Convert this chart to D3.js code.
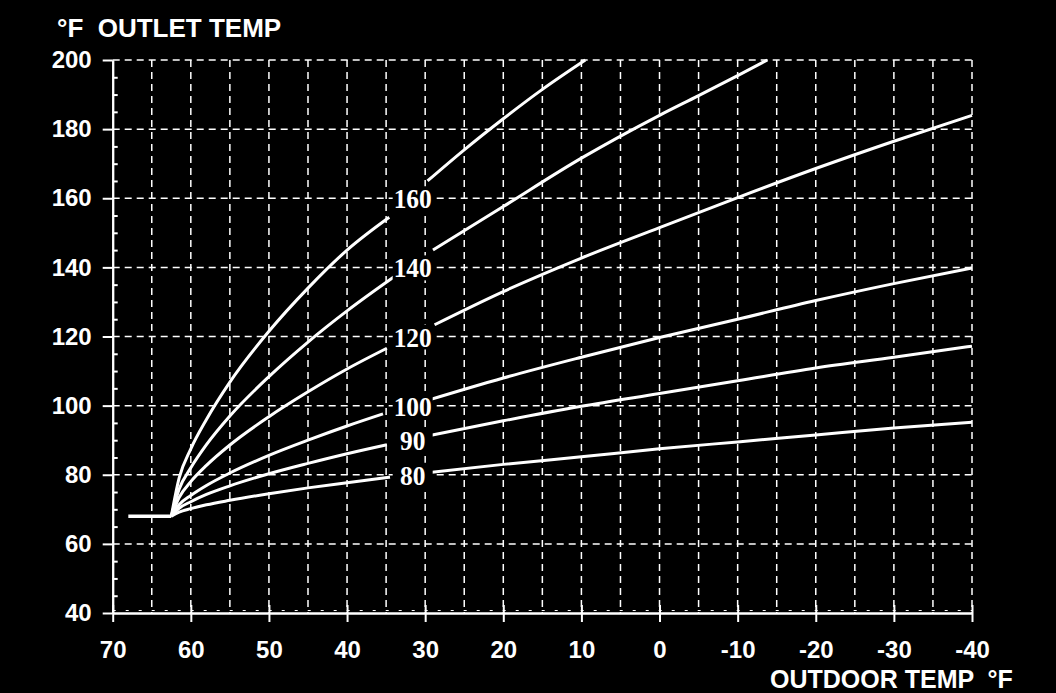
<!DOCTYPE html>
<html>
<head>
<meta charset="utf-8">
<script src="https://cdn.jsdelivr.net/npm/d3@7"></script>
<style>
  html, body { margin: 0; padding: 0; background: #000; }
  svg { display: block; }
</style>
</head>
<body>
<div id="chart"></div>
<script>
// outdoor temp (°F) ticks and outlet temp (°F) ticks
const xTicks = [70, 60, 50, 40, 30, 20, 10, 0, -10, -20, -30, -40]
const yTicks = [40, 60, 80, 100, 120, 140, 160, 180, 200]

// flat part below the warm weather shutdown
const baseLine = [[68, 68], [62.5, 68]]

// curve names (outlet temp at 30°F outdoor)
const curveNames = [80, 90, 100, 120, 140, 160]

// [outdoor, outlet] points, null = gap for the label
const curve80 = [[62.5, 68], [61.5, 69.2], [60, 70.2], [58, 71.3], [55, 72.6], [50, 74.5], [45, 76.2], [40, 77.7], [34.5, 79.3], null,
  [30, 80.5], [20, 83], [10, 85.2], [0, 87.5], [-10, 89.5], [-20, 91.5], [-30, 93.5], [-40, 95.2]]
const curve90 = [[62.5, 68], [61.5, 70.3], [60, 72.2], [58, 74.3], [55, 76.8], [50, 80.3], [45, 83.3], [40, 86.1], [34.9, 88.7], null,
  [30.2, 91], [20, 95.6], [10, 99.8], [0, 103.5], [-10, 107.2], [-20, 110.9], [-30, 114], [-40, 117.2]]
const curve100 = [[62.5, 68], [61.5, 71.3], [60, 74], [58, 76.9], [55, 80.5], [50, 85.6], [45, 90], [40, 94.1], [35.4, 97.6], null,
  [29.6, 101.6], [20, 108], [10, 114], [0, 119.7], [-10, 125], [-20, 130.4], [-30, 135.3], [-40, 139.8]]
const curve120 = [[62.5, 68], [61.5, 73.4], [60, 78], [58, 82.7], [55, 88.6], [50, 96.8], [45, 104], [40, 110.6], [34.9, 116.6], null,
  [28.8, 123.4], [20, 133], [10, 142.7], [0, 151.5], [-10, 160.2], [-20, 168.6], [-30, 176.5], [-40, 184]]
const curve140 = [[62.5, 68], [61.5, 75.8], [60, 82], [58, 88.7], [55, 97], [50, 108.4], [45, 118.4], [40, 127.4], [33.2, 138.5], null,
  [29, 145], [20, 157.6], [10, 171.6], [0, 184], [-5, 189.7], [-10, 195.5], [-13.8, 200]]
const curve160 = [[62.5, 68], [61.5, 79], [60, 87.5], [58, 96], [55, 106.8], [50, 121.5], [45, 134], [40, 145], [34.6, 154.5], null,
  [29.7, 165], [25, 174], [20, 183], [15, 191.5], [9.5, 200]]

const curves = [curve80, curve90, curve100, curve120, curve140, curve160]

const width = 1056, height = 693
const plotLeft = 112.7, plotRight = 972, plotTop = 60, plotBottom = 613

const svg = d3.select('#chart').append('svg')
  .attr('width', width)
  .attr('height', height)
  .style('background', '#000')

const x = d3.scaleLinear().domain([70, -40]).range([plotLeft, plotRight])
const y = d3.scaleLinear().domain([40, 200]).range([plotBottom, plotTop])

// grid
const grid = svg.append('g')
  .attr('stroke', '#fff')
  .attr('stroke-width', 1.5)
  .attr('stroke-dasharray', '7,5')
  .attr('fill', 'none')

grid.selectAll('line.v')
  .data(d3.range(65, -41, -5))
  .join('line')
  .attr('class', 'v')
  .attr('x1', d => x(d)).attr('x2', d => x(d))
  .attr('y1', y(200)).attr('y2', y(40))

grid.selectAll('line.h')
  .data(yTicks.slice(1))
  .join('line')
  .attr('class', 'h')
  .attr('x1', x(70)).attr('x2', x(-40))
  .attr('y1', d => y(d)).attr('y2', d => y(d))

// small bumps just above the x axis
grid.append('line')
  .attr('x1', x(70)).attr('x2', x(-40))
  .attr('y1', y(40) - 2.5).attr('y2', y(40) - 2.5)
  .attr('stroke-width', 1.2)
  .attr('stroke-dasharray', '3,10')

// axes
const yAxis = d3.axisLeft(y)
  .tickValues(yTicks)
  .tickSize(10)
  .tickSizeOuter(0)
  .tickPadding(11)
const yMinor = d3.axisLeft(y)
  .tickValues(d3.range(40, 201, 5).filter(d => d % 20 != 0))
  .tickSize(-5)
  .tickSizeOuter(0)
  .tickFormat('')
const xAxis = d3.axisBottom(x)
  .tickValues(xTicks)
  .tickSize(9)
  .tickSizeOuter(0)
  .tickPadding(19)
  .tickFormat(d => String(d))
const xUp = d3.axisBottom(x)
  .tickValues(xTicks)
  .tickSize(-8)
  .tickSizeOuter(0)
  .tickFormat('')

function styleAxis(g) {
  g.selectAll('path, line').attr('stroke', '#fff').attr('stroke-width', 2)
  g.selectAll('text')
    .attr('fill', '#fff')
    .style('font-family', '"Liberation Sans", Arial, sans-serif')
    .style('font-weight', 'bold')
    .style('font-size', '24px')
}

svg.append('g').attr('transform', 'translate(' + plotLeft + ',0)').call(yMinor).call(styleAxis)
svg.append('g').attr('transform', 'translate(' + plotLeft + ',0)').call(yAxis).call(styleAxis)
svg.append('g').attr('transform', 'translate(0,' + plotBottom + ')').call(xUp).call(styleAxis)
svg.append('g').attr('transform', 'translate(0,' + plotBottom + ')').call(xAxis).call(styleAxis)

// curves
const line = d3.line()
  .defined(d => d != null)
  .x(d => x(d[0]))
  .y(d => y(d[1]))
  .curve(d3.curveMonotoneX)

svg.append('path')
  .datum(baseLine)
  .attr('fill', 'none')
  .attr('stroke', '#fff')
  .attr('stroke-width', 3.5)
  .attr('d', d3.line().x(d => x(d[0])).y(d => y(d[1])))

svg.selectAll('path.curve')
  .data(curves)
  .join('path')
  .attr('class', 'curve')
  .attr('fill', 'none')
  .attr('stroke', '#fff')
  .attr('stroke-width', 3)
  .attr('stroke-linejoin', 'round')
  .attr('d', line)

// curve labels
const labels = svg.append('g')
curveNames.forEach(n => {
  const g = labels.append('g')
    .attr('transform', 'translate(' + x(31.6) + ',' + y(n) + ')')
  g.append('rect')
    .attr('x', -20).attr('y', -12)
    .attr('width', 40).attr('height', 25)
    .attr('fill', '#000')
  g.append('text')
    .attr('text-anchor', 'middle')
    .attr('y', 10)
    .attr('fill', '#fff')
    .style('font-family', '"Liberation Serif", serif')
    .style('font-size', '28px')
    .style('font-weight', 'bold')
    .attr('textLength', String(n).length * 12.7)
    .attr('lengthAdjust', 'spacingAndGlyphs')
    .text(n)
})

// titles
svg.append('text')
  .attr('x', 57).attr('y', 37)
  .attr('fill', '#fff')
  .style('font-family', '"Liberation Sans", Arial, sans-serif')
  .style('font-weight', 'bold')
  .style('font-size', '26px')
  .style('white-space', 'pre')
  .text('°F  OUTLET TEMP')

svg.append('text')
  .attr('x', 770).attr('y', 688)
  .attr('fill', '#fff')
  .style('font-family', '"Liberation Sans", Arial, sans-serif')
  .style('font-weight', 'bold')
  .style('font-size', '25px')
  .style('white-space', 'pre')
  .text('OUTDOOR TEMP  °F')
</script>
</body>
</html>
